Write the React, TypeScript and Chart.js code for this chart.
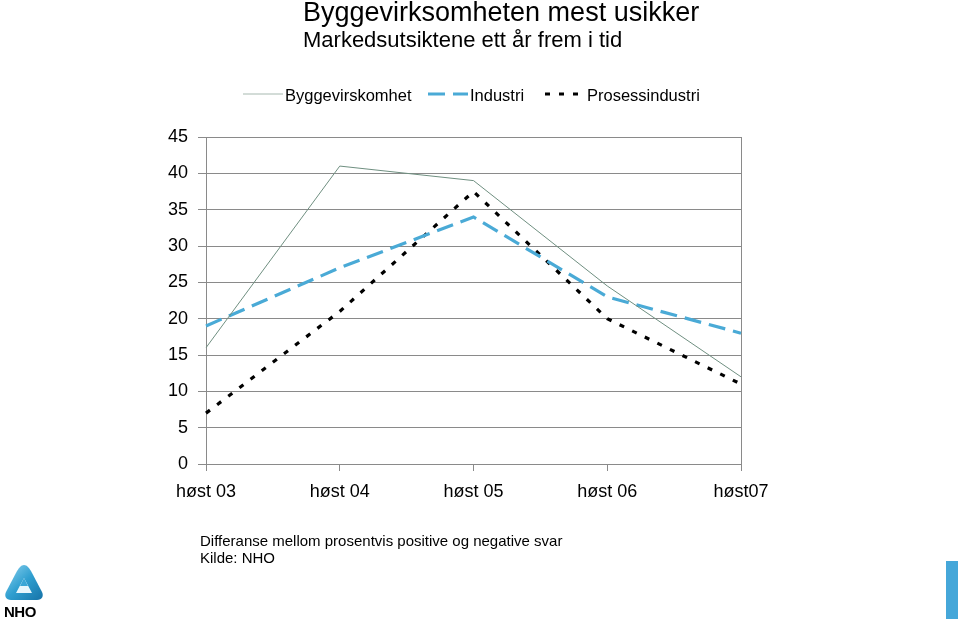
import React, { useEffect, useRef } from "react";
import { Chart, registerables } from "chart.js";

Chart.register(...registerables);

const categories = ["høst 03", "høst 04", "høst 05", "høst 06", "høst07"];
const byggevirksomhet = [16, 41, 39, 24.5, 12];
const industri = [19, 27, 34, 23, 18];
const prosessindustri = [7, 21, 37.5, 20, 11];
const seriesNames = ["Byggevirskomhet", "Industri", "Prosessindustri"];

const FONT = '"Liberation Sans", Arial, Helvetica, sans-serif';
const legendX = [243, 428, 545];

const legendPlugin = {
  id: "customLegend",
  afterDraw(chart: any) {
    const ctx = chart.ctx;
    ctx.save();
    ctx.font = `16.5px ${FONT}`;
    ctx.textBaseline = "middle";
    const y = 94;
    chart.data.datasets.forEach((ds: any, i: number) => {
      const x = legendX[i];
      ctx.beginPath();
      ctx.strokeStyle = ds.legendColor || ds.borderColor;
      ctx.lineWidth = ds.borderWidth;
      ctx.setLineDash(ds.borderDash || []);
      ctx.moveTo(x, y);
      ctx.lineTo(x + 40, y);
      ctx.stroke();
      ctx.setLineDash([]);
      ctx.fillStyle = "#000";
      ctx.fillText(ds.label, x + 42, y + 2);
    });
    ctx.restore();
  },
};

const borderPlugin = {
  id: "rightBorder",
  beforeDatasetsDraw(chart: any) {
    const { ctx, chartArea } = chart;
    ctx.save();
    ctx.strokeStyle = "#8a8a8a";
    ctx.lineWidth = 1;
    ctx.beginPath();
    ctx.moveTo(Math.round(chartArea.right) + 0.5, chartArea.top);
    ctx.lineTo(Math.round(chartArea.right) + 0.5, chartArea.bottom);
    ctx.stroke();
    ctx.restore();
  },
};

function Logo() {
  return (
    <div style={{ position: "absolute", left: 2, top: 562, width: 44, height: 60 }}>
      <svg width="44" height="44" viewBox="0 0 44 44" style={{ position: "absolute", left: 0, top: 0 }}>
        <defs>
          <linearGradient id="g1" x1="0" y1="0" x2="1" y2="1">
            <stop offset="0" stopColor="#8fd3f0" />
            <stop offset="0.5" stopColor="#2f9fd0" />
            <stop offset="1" stopColor="#1673a8" />
          </linearGradient>
        </defs>
        <path d="M22 3 C25 3 27 6 29 9 L40 30 C42 34 40 38 35 38 L9 38 C4 38 2 34 4 30 L15 9 C17 6 19 3 22 3 Z" fill="url(#g1)" />
        <path d="M22 16 L30 31 L14 31 Z" fill="#e8f6fc" />
        <path d="M22 16 L26 24 L18 24 Z" fill="#3aa6d6" />
      </svg>
      <div style={{ position: "absolute", left: 2, top: 41, fontFamily: FONT, fontWeight: "bold", fontSize: 15, letterSpacing: -0.5, color: "#000" }}>NHO</div>
    </div>
  );
}

export default function App() {
  const ref = useRef<HTMLCanvasElement | null>(null);

  useEffect(() => {
    if (!ref.current) return;
    Chart.defaults.font.family = FONT;
    const chart = new Chart(ref.current, {
      type: "line",
      data: {
        labels: categories,
        datasets: [
          {
            label: seriesNames[0],
            data: byggevirksomhet,
            borderColor: "#6f8f80",
            legendColor: "#a7b9b0",
            borderWidth: 1,
            pointRadius: 0,
            tension: 0,
          } as any,
          {
            label: seriesNames[1],
            data: industri,
            borderColor: "#4aaad6",
            borderWidth: 3.2,
            borderDash: [17, 8],
            pointRadius: 0,
            tension: 0,
          },
          {
            label: seriesNames[2],
            data: prosessindustri,
            borderColor: "#000000",
            borderWidth: 3.2,
            borderDash: [5, 9],
            pointRadius: 0,
            tension: 0,
          },
        ],
      },
      options: {
        responsive: false,
        animation: false,
        layout: { padding: { left: 0, right: 219, top: 137, bottom: 120 } },
        plugins: {
          legend: { display: false },
          title: { display: false },
          tooltip: { enabled: false },
        },
        scales: {
          x: {
            type: "category",
            offset: false,
            grid: {
              drawOnChartArea: false,
              drawTicks: true,
              tickLength: 7,
              color: "#8a8a8a",
            },
            border: { display: true, color: "#8a8a8a" },
            ticks: {
              autoSkip: false,
              maxRotation: 0,
              minRotation: 0,
              padding: 10,
              color: "#000",
              font: { size: 18, family: FONT },
            },
            afterFit: (scale: any) => {
              scale.height = 40;
            },
          },
          y: {
            min: 0,
            max: 45,
            ticks: {
              stepSize: 5,
              padding: 10,
              color: "#000",
              font: { size: 18, family: FONT },
            },
            grid: {
              color: "#8a8a8a",
              drawTicks: true,
              tickLength: 8,
            },
            border: { display: true, color: "#8a8a8a" },
            afterFit: (scale: any) => {
              scale.width = 206;
            },
          },
        },
      } as any,
      plugins: [legendPlugin, borderPlugin],
    });
    return () => chart.destroy();
  }, []);

  return (
    <div style={{ position: "fixed", left: 0, top: 0, width: 960, height: 624, background: "#fff", overflow: "hidden" }}>
      <canvas ref={ref} width={960} height={624} style={{ position: "absolute", left: 0, top: 0 }} />
      <div style={{ position: "absolute", left: 303, top: -3, fontFamily: FONT, fontSize: 27, color: "#000", whiteSpace: "nowrap" }}>
        Byggevirksomheten mest usikker
      </div>
      <div style={{ position: "absolute", left: 303, top: 27, fontFamily: FONT, fontSize: 22, color: "#000", whiteSpace: "nowrap" }}>
        Markedsutsiktene ett år frem i tid
      </div>
      <div style={{ position: "absolute", left: 200, top: 532, fontFamily: FONT, fontSize: 15, lineHeight: "17px", color: "#000", whiteSpace: "nowrap" }}>
        <div>Differanse mellom prosentvis positive og negative svar</div>
        <div>Kilde: NHO</div>
      </div>
      <Logo />
      <div style={{ position: "absolute", left: 946, top: 561, width: 12, height: 58, background: "#45a7d9" }} />
    </div>
  );
}
